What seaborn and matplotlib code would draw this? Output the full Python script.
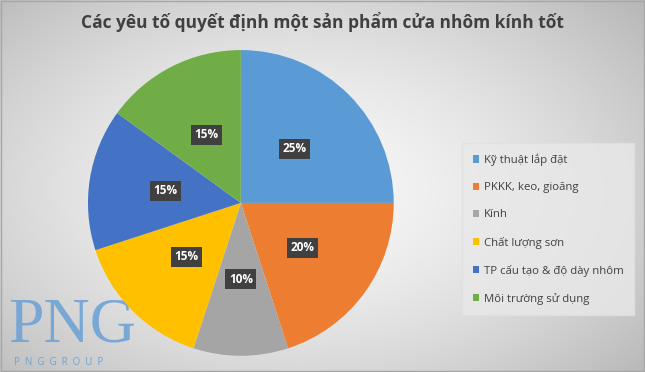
import numpy as np
import matplotlib
matplotlib.use("Agg")
import matplotlib.pyplot as plt
import seaborn as sns

categories = ["Kỹ thuật lắp đặt", "PKKK, keo, gioăng", "Kính", "Chất lượng sơn",
              "TP cấu tạo & độ dày nhôm", "Môi trường sử dụng"]
values = [25, 20, 10, 15, 15, 15]
colors = ["#5B9BD5", "#ED7D31", "#A5A5A5", "#FFC000", "#4472C4", "#70AD47"]
title = "Các yêu tố quyết định một sản phẩm cửa nhôm kính tốt"

sns.set_theme(style="white")
plt.rcParams['font.family'] = ['Open Sans', 'DejaVu Sans']

fig = plt.figure(figsize=(6.45, 3.72), dpi=100)

# background radial gradient
bg = fig.add_axes([0, 0, 1, 1])
yy, xx = np.mgrid[0:372, 0:645]
d = np.sqrt(((xx - 300) / 420.0) ** 2 + ((yy - 190) / 260.0) ** 2)
shade = np.clip(0.97 - 0.22 * d ** 1.6, 0.70, 0.97)
img = np.dstack([shade, shade, shade])
bg.imshow(img, aspect='auto', extent=[0, 1, 0, 1], origin='upper')
bg.set_xlim(0, 1); bg.set_ylim(0, 1)
bg.axis('off')
bg.add_patch(plt.Rectangle((0.001, 0.002), 0.997, 0.995, fill=False, ec="#a6a6a6", lw=1))

# watermark logo
bg.text(0.012, 0.045, "PNG", fontsize=46, family="Liberation Serif", color="#6fa3d6",
        alpha=0.9, ha="left", va="bottom")
bg.text(0.022, 0.010, "P  N  G  G  R  O  U  P", fontsize=7, color="#6fa3d6",
        ha="left", va="bottom")

bg.text(0.5, 0.94, title, fontsize=12.5, fontweight="bold", color="#404040",
        ha="center", va="center")

ax = fig.add_axes([0.1364, 0.043, 0.474, 0.823])
wedges, texts, autotexts = ax.pie(values, colors=colors, startangle=90, counterclock=False,
                                  autopct="%d%%", pctdistance=0.5,
                                  wedgeprops=dict(linewidth=0))
ax.set_xlim(-1.0, 1.0)
ax.set_ylim(-1.0, 1.0)
for t in autotexts:
    t.set_color("white")
    t.set_fontweight("bold")
    t.set_fontsize(8.5)
    t.set_bbox(dict(boxstyle="square,pad=0.3", fc="#404040", ec="none"))
ax.set_aspect('equal')

leg = fig.legend(wedges, categories, loc="upper left", bbox_to_anchor=(0.708, 0.63),
                 frameon=True, fontsize=8.2, labelspacing=1.42, handlelength=0.6,
                 handleheight=0.6, handletextpad=0.4, borderpad=0.9, fancybox=False)
leg.get_frame().set_facecolor("#e9e9e9")
leg.get_frame().set_edgecolor("#e0e0e0")
for t in leg.get_texts():
    t.set_color("#404040")

fig.savefig("out.png", dpi=100)
